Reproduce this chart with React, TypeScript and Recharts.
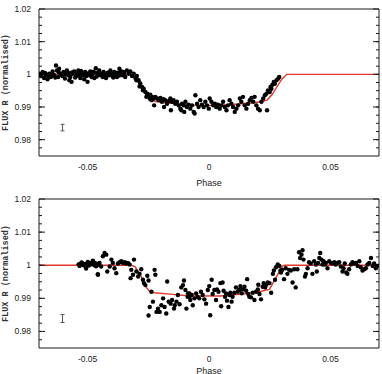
import { ComposedChart, Line, Scatter, XAxis, YAxis, ErrorBar } from 'recharts';

// upper panel: phase-folded photometry
const topPhase = [
  -0.0702, -0.0699, -0.0692, -0.0689, -0.0685, -0.0679, -0.0675, -0.0672, -0.0665, -0.0662,
  -0.0658, -0.0651, -0.0647, -0.0644, -0.0637, -0.0633, -0.063, -0.0626, -0.0621, -0.0619,
  -0.0617, -0.061, -0.0606, -0.0603, -0.0599, -0.0593, -0.0591, -0.0589, -0.0585, -0.058,
  -0.0578, -0.0575, -0.0571, -0.0566, -0.0564, -0.0562, -0.0555, -0.0551, -0.0548, -0.0544,
  -0.054, -0.0538, -0.0534, -0.053, -0.0527, -0.0525, -0.0521, -0.0516, -0.0514, -0.051,
  -0.0504, -0.0502, -0.05, -0.0493, -0.0489, -0.0486, -0.0483, -0.0479, -0.0475, -0.0472,
  -0.0466, -0.0463, -0.0461, -0.0456, -0.0452, -0.0448, -0.0445, -0.0438, -0.0436, -0.0434,
  -0.0428, -0.0424, -0.0421, -0.0417, -0.0411, -0.0408, -0.0406, -0.0401, -0.0397, -0.0394,
  -0.039, -0.0383, -0.0381, -0.0379, -0.0373, -0.0371, -0.0369, -0.0365, -0.036, -0.0358,
  -0.0356, -0.0349, -0.0345,
  -0.0352, -0.0338, -0.0331, -0.0324, -0.0317, -0.031, -0.0303, -0.0299, -0.0297, -0.029,
  -0.0286, -0.0283, -0.0276, -0.0272, -0.0269, -0.0262, -0.0258, -0.0255, -0.0249, -0.0244,
  -0.0242, -0.0237, -0.0235, -0.0231, -0.0228, -0.0226, -0.0221, -0.0214, -0.0207, -0.02,
  -0.0194, -0.0187, -0.0185, -0.018, -0.0173, -0.0166, -0.0159, -0.0157, -0.0152, -0.0146,
  -0.0139, -0.0132, -0.0125, -0.0118, -0.0114, -0.0111, -0.0104, -0.0102, -0.0097, -0.0091,
  -0.0084, -0.0077, -0.007, -0.0063, -0.0059, -0.0056, -0.0049, -0.0043, -0.0036, -0.0029,
  -0.0022, -0.0015, -0.0008, -0.0001,
  0.0003, 0.001, 0.0017, 0.0024, 0.003, 0.0037, 0.0044, 0.0051, 0.0058, 0.0065,
  0.0072, 0.0078, 0.0085, 0.0092, 0.0099, 0.0106, 0.0113, 0.012, 0.0127, 0.0133,
  0.014, 0.0147, 0.0154, 0.0161, 0.0168, 0.0175, 0.0182, 0.0188, 0.0195, 0.0202,
  0.0209, 0.0216, 0.0223, 0.023, 0.0237, 0.0239, 0.0243, 0.025, 0.0253, 0.0257,
  0.0261, 0.0267, 0.0271, 0.0278, 0.0285, 0.0289,
];
const topFlux = [
  0.9998, 1.0002, 0.9995, 1.0, 1.0007, 0.9989, 1.0004, 0.9999, 0.9985, 0.9994,
  1.0002, 0.9992, 1.0001, 1.0009, 0.9997, 0.999, 1.0027, 1.0012, 0.9992, 1.0006,
  1.0017, 1.0002, 0.9998, 0.9995, 1.0007, 0.9987, 1.0003, 0.9999, 1.0012, 1.0005,
  0.9997, 0.9982, 0.9992, 0.9977, 1.0006, 1.0002, 1.0009, 0.999, 0.9995, 1.0002,
  0.9997, 1.0012, 0.9999, 0.9989, 1.001, 1.0005, 0.9997, 0.9998, 0.9985, 1.0007,
  0.9995, 1.0003, 0.9977, 0.9999, 1.0009, 0.9996, 0.9992, 1.0002, 1.0008, 0.9989,
  1.0019, 0.9993, 1.0005, 0.9997, 1.0012, 0.9998, 1.0002, 0.9992, 1.0003, 1.0007,
  0.9999, 0.9989, 0.9996, 1.0005, 0.9997, 1.0, 1.0012, 1.0002, 0.9995, 0.999,
  1.0007, 0.9999, 1.0004, 0.9992, 1.0005, 0.9996, 1.0017, 1.0002, 1.0009, 1.0001,
  0.9997, 1.0005, 0.9992,
  1.0007, 1.0012, 1.0002, 1.0009, 0.9995, 1.0002, 0.9989, 0.9982, 0.9995, 0.9982,
  0.9963, 0.9972, 0.9961, 0.9951, 0.9956, 0.9946, 0.9931, 0.9941, 0.9936, 0.9926,
  0.9938, 0.9921, 0.9931, 0.9929, 0.9926, 0.9905, 0.9931, 0.9926, 0.9921, 0.9928,
  0.9916, 0.9924, 0.99, 0.9921, 0.991, 0.9918, 0.9926, 0.989, 0.9916, 0.9921,
  0.991, 0.9916, 0.9905, 0.9895, 0.989, 0.991, 0.9905, 0.9885, 0.9916, 0.99,
  0.9907, 0.9895, 0.9905, 0.9885, 0.988, 0.9936, 0.991, 0.99, 0.9921, 0.9907,
  0.99, 0.9916, 0.9905, 0.9895,
  0.9926, 0.9916, 0.9905, 0.991, 0.99, 0.9907, 0.9895, 0.9905, 0.9916, 0.99,
  0.989, 0.9905, 0.9921, 0.991, 0.99, 0.9885, 0.9895, 0.9905, 0.9926, 0.9916,
  0.9931, 0.9905, 0.9895, 0.991, 0.9921, 0.9928, 0.9916, 0.9931, 0.9905, 0.9895,
  0.989, 0.9916, 0.9926, 0.9936, 0.9941, 0.989, 0.9951, 0.9946, 0.9961, 0.9956,
  0.9968, 0.9977, 0.9971, 0.9982, 0.9987, 0.9992,
];

// upper panel: transit model
const topModelPhase = [
  -0.07, -0.032, -0.03, -0.028, -0.026, -0.024, -0.022, -0.018, -0.012, -0.006, 0,
  0.006, 0.012, 0.018, 0.022, 0.024, 0.026, 0.028, 0.03, 0.032, 0.07,
];
const topModelFlux = [
  1, 1, 0.9985, 0.9962, 0.9938, 0.9922, 0.9917, 0.9913, 0.9909, 0.9906, 0.9905,
  0.9906, 0.9909, 0.9913, 0.9917, 0.9922, 0.9938, 0.9962, 0.9985, 1, 1,
];

// lower panel: phase-folded photometry
const bottomPhase = [
  -0.0537, -0.0533, -0.0529, -0.0525, -0.0522, -0.0517, -0.0513, -0.0508, -0.0506, -0.0503,
  -0.0499, -0.0495, -0.0492, -0.0485, -0.0481, -0.0478, -0.0471, -0.0468, -0.0465, -0.046,
  -0.0458, -0.0454,
  -0.0471, -0.0464, -0.0457, -0.0451, -0.0444, -0.0437, -0.043, -0.0423, -0.0419, -0.0409,
  -0.0402, -0.0396, -0.0389, -0.0382, -0.0375, -0.0368, -0.0361, -0.0354, -0.0347, -0.0341,
  -0.0334, -0.0327, -0.0323, -0.032, -0.0313, -0.0309, -0.0299, -0.0292, -0.0286, -0.0279,
  -0.0272, -0.0268, -0.0262, -0.0254, -0.0249, -0.0249, -0.0244, -0.0237, -0.0231, -0.0224,
  -0.0221, -0.0216, -0.021, -0.0203, -0.0196, -0.0189, -0.0183, -0.0176, -0.0172, -0.0166,
  -0.0158, -0.0152, -0.0144, -0.0141, -0.0134, -0.0128, -0.0121, -0.0114, -0.0107, -0.0103,
  -0.0097, -0.0093, -0.0086, -0.008,
  -0.0088, -0.0081, -0.0077, -0.0071, -0.0067, -0.006, -0.0053, -0.0047, -0.004, -0.0033,
  -0.0026, -0.0019, -0.0012, -0.0005, 0.0001, 0.0005, 0.0011, 0.0015, 0.0022, 0.0029,
  0.0033, 0.0039, 0.0047, 0.005, 0.0056, 0.006, 0.0066, 0.007, 0.0074, 0.008,
  0.0084, 0.0088, 0.0093, 0.0097, 0.0104, 0.0111, 0.0118, 0.0125, 0.0129, 0.0135,
  0.0139, 0.0146, 0.0153, 0.0157, 0.0162, 0.0166, 0.0173, 0.018, 0.0187, 0.0194,
  0.0201, 0.0203, 0.0208, 0.0214, 0.0221, 0.0225, 0.0231, 0.0236, 0.0242, 0.0249,
  0.0256, 0.0263, 0.0267, 0.0272, 0.0276, 0.0283, 0.029, 0.0294,
  0.0296, 0.0302, 0.0309, 0.0316, 0.0323, 0.033, 0.0337, 0.0344, 0.0351, 0.0357,
  0.0364, 0.0371, 0.0375, 0.0381, 0.0385, 0.0389, 0.0395, 0.0399, 0.0406, 0.0412,
  0.0419, 0.0426, 0.0433, 0.044, 0.0444, 0.0449, 0.0454, 0.0458, 0.0463, 0.0467,
  0.0472, 0.0477, 0.0481, 0.0488, 0.0495, 0.0502, 0.0509, 0.0516, 0.0522, 0.0529,
  0.0536, 0.0543, 0.055, 0.0554, 0.0559, 0.0565, 0.057, 0.0577, 0.0584, 0.0591,
  0.0598, 0.0605, 0.0612, 0.0619, 0.0625, 0.0632, 0.0639, 0.0646, 0.0653, 0.066,
  0.0667, 0.0674, 0.068, 0.0687, 0.0694,
];
const bottomFlux = [
  1.0002, 0.9998, 1.0004, 1.0008, 1.0006, 1.0, 1.0003, 0.9997, 0.999, 1.0005,
  1.001, 0.9999, 1.0002, 1.0007, 1.0003, 1.0014, 1.0, 1.0006, 0.9997, 1.0001,
  0.9973, 1.0004,
  1.0002, 0.9998, 0.9971, 1.0007, 0.9996, 1.0027, 1.0037, 1.0032, 0.9981, 0.9996,
  1.0017, 1.0007, 0.9991, 0.9976, 1.0005, 1.0009, 1.0012, 1.0007, 1.0009, 1.0005,
  1.0007, 1.0002, 0.9961, 0.9986, 0.9971, 1.0017, 0.9981, 0.9966, 0.9974, 0.9988,
  0.9956, 0.9946, 0.994, 0.9968, 0.9954, 0.9848, 0.9874, 0.992, 0.989, 0.9986,
  0.9971, 0.9859, 0.9869, 0.9859, 0.9879, 0.99, 0.9874, 0.9854, 0.9951, 0.989,
  0.9884, 0.9895, 0.9869, 0.9879, 0.989, 0.991, 0.9882, 0.9933, 0.994, 0.9954,
  0.9925, 0.9869, 0.9915, 0.9905,
  0.9905, 0.9915, 0.9895, 0.991, 0.9879, 0.99, 0.9915, 0.9905, 0.99, 0.992,
  0.991, 0.9897, 0.9884, 0.9925, 0.9937, 0.9849, 0.9956, 0.9913, 0.9925, 0.9895,
  0.9927, 0.992, 0.9946, 0.9876, 0.9948, 0.9923, 0.9905, 0.9915, 0.9893, 0.9874,
  0.991, 0.9917, 0.989, 0.9905, 0.9917, 0.9933, 0.992, 0.9925, 0.9937, 0.9915,
  0.9927, 0.9935, 0.9923, 0.9958, 0.9913, 0.9905, 0.9903, 0.9917, 0.9895, 0.992,
  0.9927, 0.9941, 0.9913, 0.9897, 0.9935, 0.9946, 0.9933, 0.9941, 0.9948, 0.9946,
  0.9917, 0.9974, 0.9984, 0.9956, 0.9994, 1.0002, 0.9998, 0.9984,
  0.9978, 0.9986, 0.9958, 0.9991, 0.9974, 0.9986, 0.9984, 0.9948, 0.9988, 0.9933,
  0.9988, 1.0039, 1.0022, 1.0032, 1.0045, 1.0017, 0.9966, 0.9974, 0.9991, 1.0009,
  1.0005, 0.9974, 1.0012, 1.0002, 0.9981, 1.0007, 1.0022, 1.0037, 1.0017, 1.0002,
  1.0012, 1.0002, 1.0007, 0.9991, 1.0012, 1.0007, 1.0005, 1.0009, 1.0002, 1.0007,
  1.0009, 0.9996, 0.9981, 0.9991, 1.0005, 0.9978, 0.9974, 0.9988, 1.0002, 1.0009,
  1.0005, 1.0007, 0.9998, 1.0012, 0.9994, 0.9984, 0.9988, 0.9991, 1.0002, 1.0007,
  1.0022, 0.9998, 1.0005, 0.9991, 0.9998,
];

// lower panel: transit model
const bottomModelPhase = [
  -0.07, -0.032, -0.0305, -0.0279, -0.0265, -0.0244, -0.0224, -0.015, -0.0088, 0.0048,
  0.0187, 0.0249, 0.0275, 0.0304, 0.0312, 0.07,
];
const bottomModelFlux = [
  1, 1, 0.9996, 0.9966, 0.994, 0.992, 0.9917, 0.9912, 0.9908, 0.9907,
  0.9917, 0.9927, 0.9962, 0.9998, 1, 1,
];

// typical photometric error: [phase, flux, half-length]
const topErrorBar = [-0.0603, 0.9837, 0.001];
const bottomErrorBar = [-0.0603, 0.9839, 0.0012];

const xTicks = [-0.05, 0, 0.05];
const xMinorTicks = [-0.06, -0.05, -0.04, -0.03, -0.02, -0.01, 0, 0.01, 0.02, 0.03, 0.04, 0.05, 0.06];
const yTicks = [0.98, 0.99, 1, 1.01, 1.02];
const yMinorTicks = [
  0.9775, 0.98, 0.9825, 0.985, 0.9875, 0.99, 0.9925, 0.995, 0.9975, 1, 1.0025, 1.005,
  1.0075, 1.01, 1.0125, 1.015, 1.0175,
];

const X_DOMAIN: [number, number] = [-0.07, 0.07];
const Y_DOMAIN: [number, number] = [0.975, 1.02];
const SANS = '"Liberation Sans", Arial, sans-serif';
const MONO = '"Liberation Mono", "DejaVu Sans Mono", monospace';
const INK = '#1a1a1a';
// mirror axes need a non-zero size to render; keep it tiny so they don't stack
const HAIR = 0.01;

const Dot = (props: any) => <circle cx={props.cx} cy={props.cy} r={2.2} fill="#000" />;
const NoShape = () => <g />;
const blank = () => '';

interface PanelProps {
  phase: number[];
  flux: number[];
  modelPhase: number[];
  modelFlux: number[];
  errorBar: number[];
  marginTop: number;
  axisHeight: number;
  phaseOffset: number;
}

function Panel({ phase, flux, modelPhase, modelFlux, errorBar, marginTop, axisHeight, phaseOffset }: PanelProps) {
  const points = phase.map((p, i) => ({ phase: p, flux: flux[i] }));
  const model = modelPhase.map((p, i) => ({ phase: p, flux: modelFlux[i] }));
  const err = [{ phase: errorBar[0], flux: errorBar[1], err: errorBar[2] }];

  // inward tick marks on all four sides
  const xInner = (id: string, side: 'top' | 'bottom', ticks: number[], size: number, line: boolean) => (
    <XAxis
      xAxisId={id}
      orientation={side}
      type="number"
      domain={X_DOMAIN}
      allowDataOverflow
      ticks={ticks}
      interval={0}
      mirror
      height={HAIR}
      tickSize={size}
      tickFormatter={blank}
      axisLine={line ? { stroke: INK } : false}
      tickLine={{ stroke: INK }}
    />
  );
  const yInner = (id: string, side: 'left' | 'right', ticks: number[], size: number, line: boolean) => (
    <YAxis
      yAxisId={id}
      orientation={side}
      type="number"
      domain={Y_DOMAIN}
      allowDataOverflow
      ticks={ticks}
      interval={0}
      mirror
      width={HAIR}
      tickSize={size}
      tickFormatter={blank}
      axisLine={line ? { stroke: INK } : false}
      tickLine={{ stroke: INK }}
    />
  );

  return (
    <ComposedChart width={382} height={187} margin={{ top: marginTop, right: 3, bottom: 0, left: 0 }}>
      <XAxis
        dataKey="phase"
        type="number"
        domain={X_DOMAIN}
        allowDataOverflow
        ticks={xTicks}
        interval={0}
        height={axisHeight}
        tickLine={false}
        tickSize={0}
        tickMargin={8}
        axisLine={{ stroke: INK }}
        tick={{ fontSize: 8.5, fill: '#222', fontFamily: SANS }}
        label={{ value: 'Phase', position: 'insideBottom', offset: phaseOffset, fontSize: 9, fill: '#222', fontFamily: SANS }}
      />
      <YAxis
        dataKey="flux"
        type="number"
        domain={Y_DOMAIN}
        allowDataOverflow
        ticks={yTicks}
        interval={0}
        width={39}
        tickLine={false}
        tickSize={0}
        tickMargin={8}
        axisLine={{ stroke: INK }}
        tick={{ fontSize: 8.5, fill: '#222', fontFamily: SANS }}
        label={{
          value: 'FLUX R (normalised)',
          angle: -90,
          position: 'insideLeft',
          offset: 5,
          fontSize: 8.5,
          fontWeight: 'bold',
          fill: '#333',
          fontFamily: MONO,
          style: { textAnchor: 'middle' },
        }}
      />
      {xInner('bMajor', 'bottom', xTicks, 6, false)}
      {xInner('bMinor', 'bottom', xMinorTicks, 3, false)}
      {xInner('tMajor', 'top', xTicks, 6, true)}
      {xInner('tMinor', 'top', xMinorTicks, 3, false)}
      {yInner('lMajor', 'left', yTicks, 6, false)}
      {yInner('lMinor', 'left', yMinorTicks, 3, false)}
      {yInner('rMajor', 'right', yTicks, 6, true)}
      {yInner('rMinor', 'right', yMinorTicks, 3, false)}

      <Line
        data={model}
        dataKey="flux"
        type="linear"
        stroke="#e3372b"
        strokeWidth={1.4}
        dot={false}
        activeDot={false}
        isAnimationActive={false}
      />
      <Scatter data={points} dataKey="flux" shape={Dot} isAnimationActive={false} />
      <Scatter data={err} dataKey="flux" shape={NoShape} isAnimationActive={false}>
        <ErrorBar dataKey="err" direction="y" width={2} stroke="#555" strokeWidth={1} isAnimationActive={false} />
      </Scatter>
    </ComposedChart>
  );
}

export default function App() {
  return (
    <div style={{ position: 'absolute', left: 0, top: 0, width: 382, height: 374, background: '#fff' }}>
      <Panel
        phase={topPhase}
        flux={topFlux}
        modelPhase={topModelPhase}
        modelFlux={topModelFlux}
        errorBar={topErrorBar}
        marginTop={9}
        axisHeight={31}
        phaseOffset={1.5}
      />
      <Panel
        phase={bottomPhase}
        flux={bottomFlux}
        modelPhase={bottomModelPhase}
        modelFlux={bottomModelFlux}
        errorBar={bottomErrorBar}
        marginTop={12}
        axisHeight={26}
        phaseOffset={0.5}
      />
    </div>
  );
}
